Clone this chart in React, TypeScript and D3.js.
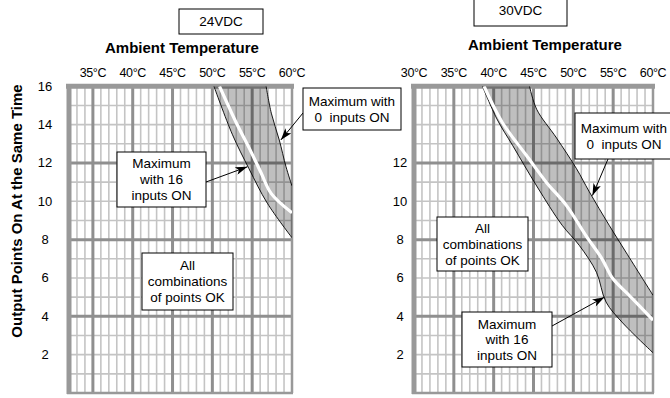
import React from "react";
import * as d3 from "d3";

const FONT = "Arial, 'Liberation Sans', Helvetica, sans-serif";

// y axis: output points on at the same time
const yTicksLeft = [2, 4, 6, 8, 10, 12, 14, 16];
const yTicksRight = [2, 4, 6, 8, 10, 12];
// x axis: ambient temperature in degC
const tempTicksLeft = [35, 40, 45, 50, 55, 60];
const tempTicksRight = [30, 35, 40, 45, 50, 55, 60];

// 24VDC curves, [temperature, points]
const left0On = [[56.75, 16], [57.4, 14.6], [58.4, 13.2], [59.25, 11.8], [60, 10.8]];
const left16On = [[50.2, 16], [52.5, 13.5], [54.6, 11.7], [56.9, 9.9], [60, 8.1]];
const leftWhite = [[50.9, 16], [53, 14.1], [54.6, 12.8], [56.1, 11.5], [57.4, 10.4], [60, 9.4]];

// 30VDC curves
const right0On = [[44.5, 16], [45.4, 14.8], [47.9, 13.3], [50.4, 11.7], [52, 10.5], [54.5, 8.75], [56.6, 7.35], [60, 5.1]];
const right16On = [[38.6, 16], [40.4, 14.3], [42.4, 12.9], [45.4, 10.8], [48.6, 8.75], [50.75, 7.7], [52.9, 6.3], [54.1, 4.75], [56.1, 3.7], [60, 2.1]];
const rightWhite = [[38.8, 16], [41.1, 14.1], [44.1, 12.4], [46.6, 11.0], [49.1, 9.8], [51.6, 8.2], [53.6, 7.0], [54.9, 6.0], [57, 5.1], [60, 3.8]];

const y = d3.scaleLinear().domain([0, 16]).range([393, 86.3]);

type Pt = number[];
type Note = { x: number; y: number; w: number; h: number; dy: number; lines: string[] };
type Arrow = { from: [number, number]; tip: Pt };

const panels = [
  {
    id: "l",
    domain: [32, 60],
    range: [69, 292],
    yTicks: yTicksLeft,
    temps: tempTicksLeft,
    yLabelX: 45,
    titleX: 182,
    titleY: 53,
    vdc: { x: 179, y: 9, w: 84, h: 25, label: "24VDC" },
    upper: left0On,
    lower: left16On,
    white: leftWhite,
    notes: [
      { x: 303, y: 88, w: 98, h: 42, dy: 16, lines: ["Maximum with", "0  inputs ON"] },
      { x: 117, y: 152, w: 89, h: 55, dy: 16, lines: ["Maximum", "with 16", "inputs ON"] },
      { x: 142, y: 253, w: 91, h: 57, dy: 16, lines: ["All", "combinations", "of points OK"] },
    ] as Note[],
    arrows: [
      { from: [303, 113], tip: [58.6, 13.2] },
      { from: [206, 182], tip: [54.4, 11.8] },
    ] as Arrow[],
  },
  {
    id: "r",
    domain: [30, 60],
    range: [414, 653],
    yTicks: yTicksRight,
    temps: tempTicksRight,
    yLabelX: 400,
    titleX: 545,
    titleY: 50,
    vdc: { x: 474, y: -5, w: 93, h: 31, label: "30VDC" },
    upper: right0On,
    lower: right16On,
    white: rightWhite,
    notes: [
      { x: 575, y: 113, w: 98, h: 46, dy: 16, lines: ["Maximum with", "0  inputs ON"] },
      { x: 437, y: 217, w: 91, h: 54, dy: 16, lines: ["All", "combinations", "of points OK"] },
      { x: 462, y: 312, w: 90, h: 55, dy: 15.5, lines: ["Maximum", "with 16", "inputs ON"] },
    ] as Note[],
    arrows: [
      { from: [608, 159], tip: [52.4, 10.3] },
      { from: [552, 326], tip: [53.9, 5.0] },
    ] as Arrow[],
  },
];

const Panel = ({ p }: { p: (typeof panels)[number] }) => {
  const x = d3.scaleLinear().domain(p.domain).range(p.range);
  const [t0, t1] = p.domain;
  const minorX = d3.range(t0 + 1, t1).filter((t) => t % 5 !== 0);
  const majorX = d3.range(t0 + 1, t1).filter((t) => t % 5 === 0);
  const minorY = d3.range(1, 16).filter((v) => v % 4 !== 0);
  const majorY = [4, 8, 12];
  const line = d3
    .line<Pt>()
    .x((d) => x(d[0]))
    .y((d) => y(d[1]))
    .curve(d3.curveCatmullRom.alpha(0.5));
  const band =
    (line(p.upper) as string) + (line([...p.lower].reverse()) as string).replace(/^M/, "L") + "Z";
  const [xl, xr] = p.range;
  const yt = y(16);
  const yb = y(0);

  return (
    <g>
      <defs>
        <clipPath id={`clip-${p.id}`}>
          <rect x={xl} y={yt} width={xr - xl} height={yb - yt} />
        </clipPath>
      </defs>
      {/* grid */}
      {minorX.map((t) => (
        <line key={`mx${t}`} x1={x(t)} x2={x(t)} y1={yt} y2={yb} stroke="#c4c4c4" strokeWidth={1.6} />
      ))}
      {minorY.map((v) => (
        <line key={`my${v}`} x1={xl} x2={xr} y1={y(v)} y2={y(v)} stroke="#c4c4c4" strokeWidth={1.6} />
      ))}
      {majorX.map((t) => (
        <line key={`Mx${t}`} x1={x(t)} x2={x(t)} y1={yt} y2={yb} stroke="#8f8f8f" strokeWidth={3} />
      ))}
      {majorY.map((v) => (
        <line key={`My${v}`} x1={xl} x2={xr} y1={y(v)} y2={y(v)} stroke="#8f8f8f" strokeWidth={3} />
      ))}
      {/* frame */}
      <line x1={xr} x2={xr} y1={yt} y2={yb} stroke="#999" strokeWidth={2.5} />
      <line x1={xl - 2} x2={xr + 1} y1={yb} y2={yb} stroke="#999" strokeWidth={2.5} />
      <line x1={xl - 3} x2={xr + 2} y1={yt} y2={yt} stroke="#999" strokeWidth={5} />
      <line x1={xl} x2={xl} y1={yt} y2={yb + 1} stroke="#999" strokeWidth={5} />

      {/* band and curves */}
      <g clipPath={`url(#clip-${p.id})`}>
        <path d={band} fill="#000" fillOpacity={0.25} stroke="none" />
        <path d={line(p.upper) as string} fill="none" stroke="#000" strokeWidth={0.9} />
        <path d={line(p.lower) as string} fill="none" stroke="#000" strokeWidth={0.9} />
        <path d={line(p.white) as string} fill="none" stroke="#fff" strokeWidth={3.2} />
      </g>

      {/* axes text */}
      {p.yTicks.map((v) => (
        <text key={`yl${v}`} x={p.yLabelX} y={y(v) + 4.5} textAnchor="middle" fontSize={13} fontFamily={FONT}>
          {v}
        </text>
      ))}
      {p.temps.map((t) => (
        <text key={`xl${t}`} x={x(t)} y={76.5} textAnchor="middle" fontSize={12.5} letterSpacing={-0.4} fontFamily={FONT}>
          {`${t}°C`}
        </text>
      ))}
      <text x={p.titleX} y={p.titleY} textAnchor="middle" fontSize={15} fontWeight="bold" fontFamily={FONT}>
        Ambient Temperature
      </text>
      <rect x={p.vdc.x} y={p.vdc.y} width={p.vdc.w} height={p.vdc.h} fill="#fff" stroke="#000" strokeWidth={1} />
      <text
        x={p.vdc.x + p.vdc.w / 2}
        y={p.vdc.y + p.vdc.h / 2 + 4.7}
        textAnchor="middle"
        fontSize={13.5}
        fontFamily={FONT}
      >
        {p.vdc.label}
      </text>

      {/* arrows */}
      {p.arrows.map((a, i) => (
        <line
          key={`ar${i}`}
          x1={a.from[0]}
          y1={a.from[1]}
          x2={x(a.tip[0])}
          y2={y(a.tip[1])}
          stroke="#000"
          strokeWidth={1}
          markerEnd="url(#arrowhead)"
        />
      ))}

      {/* notes */}
      {p.notes.map((n, i) => (
        <g key={`n${i}`}>
          <rect x={n.x} y={n.y} width={n.w} height={n.h} fill="#fff" stroke="#000" strokeWidth={1} />
          {n.lines.map((s, j) => (
            <text
              key={j}
              x={n.x + n.w / 2}
              y={n.y + n.h / 2 + (j - (n.lines.length - 1) / 2) * n.dy + 4.8}
              textAnchor="middle"
              fontSize={13.5}
              fontFamily={FONT}
              style={{ whiteSpace: "pre" }}
            >
              {s}
            </text>
          ))}
        </g>
      ))}
    </g>
  );
};

const App = () => {
  return (
    <svg
      width={670}
      height={398}
      style={{ position: "absolute", left: 0, top: 0, background: "#fff" }}
    >
      <defs>
        <marker
          id="arrowhead"
          viewBox="0 0 12 8"
          refX={12}
          refY={4}
          markerWidth={13}
          markerHeight={8}
          markerUnits="userSpaceOnUse"
          orient="auto"
        >
          <path d="M0,0 L12,4 L0,8 L3,4 Z" fill="#000" />
        </marker>
      </defs>
      {panels.map((p) => (
        <Panel key={p.id} p={p} />
      ))}
      <text
        transform="translate(16,211) rotate(-90)"
        textAnchor="middle"
        dominantBaseline="central"
        fontSize={15}
        fontWeight="bold"
        fontFamily={FONT}
      >
        Output Points On At the Same Time
      </text>
    </svg>
  );
};

export default App;
